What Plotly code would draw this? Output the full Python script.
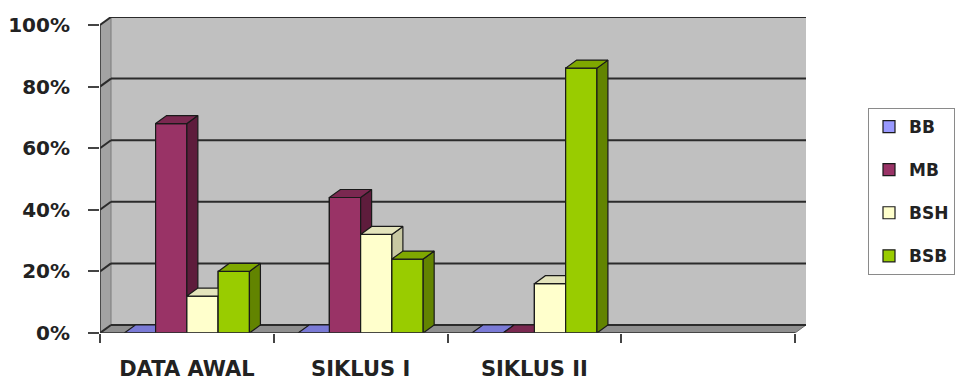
import plotly.graph_objects as go

# ---------------- data ----------------
categories = ["DATA AWAL", "SIKLUS I", "SIKLUS II", ""]
series_names = ["BB", "MB", "BSH", "BSB"]
bb = [0, 0, 0]
mb = [68, 44, 0]
bsh = [12, 32, 16]
bsb = [20, 24, 86]
y_ticks = [0, 20, 40, 60, 80, 100]
y_tick_labels = [f"{v}%" for v in y_ticks]

values = [bb, mb, bsh, bsb]

# ---------------- styles ----------------
face_colors = ["#9999FF", "#993366", "#FFFFCC", "#99CC00"]
side_colors = ["#5c5cb8", "#5e1c3c", "#c8c8a2", "#628400"]
top_colors = ["#7a7ad6", "#7a2850", "#e4e4bc", "#7fa800"]
edge = "#1a1a1a"

bar_w = 0.18          # bar width in category units
dx = 0.0633           # 3-D depth offset (x, category units)
dy = 2.6              # 3-D depth offset (y, value units)
n_slots = len(categories)
FONT = "DejaVu Sans"

fig = go.Figure()

# legend / base bar traces (front faces)
for i, (name, vals) in enumerate(zip(series_names, values)):
    fig.add_trace(go.Bar(
        x=list(range(len(vals))), y=vals, name=name,
        width=bar_w, offset=-2 * bar_w + i * bar_w,
        marker=dict(color=face_colors[i], line=dict(color=edge, width=1.2)),
        legendgroup=name, hoverinfo="skip",
    ))

# 3-D faces, drawn series by series so that later bars cover earlier sides
def poly(points_list):
    xs, ys = [], []
    for pts in points_list:
        for (px, py) in pts:
            xs.append(px)
            ys.append(py)
        xs.append(pts[0][0]); ys.append(pts[0][1])
        xs.append(None); ys.append(None)
    return xs, ys

for i, (name, vals) in enumerate(zip(series_names, values)):
    fronts, sides, tops = [], [], []
    for c, h in enumerate(vals):
        L = c - 2 * bar_w + i * bar_w
        R = L + bar_w
        fronts.append([(L, 0), (R, 0), (R, h), (L, h)])
        sides.append([(R, 0), (R + dx, dy), (R + dx, h + dy), (R, h)])
        tops.append([(L, h), (R, h), (R + dx, h + dy), (L + dx, h + dy)])
    for pts, col in ((fronts, face_colors[i]), (sides, side_colors[i]), (tops, top_colors[i])):
        xs, ys = poly(pts)
        fig.add_trace(go.Scatter(
            x=xs, y=ys, mode="lines", fill="toself", fillcolor=col,
            line=dict(color=edge, width=1.2), showlegend=False,
            hoverinfo="skip", legendgroup=name,
        ))

# ---------------- walls & gridlines ----------------
x0, x1 = -0.5, n_slots - 0.5
ymax = y_ticks[-1]
shapes = []
# back wall
shapes.append(dict(type="rect", xref="x", yref="y", x0=x0 + dx, x1=x1 + dx, y0=dy, y1=ymax + dy,
                   fillcolor="#c0c0c0", line=dict(width=0), layer="below"))
# left wall
shapes.append(dict(type="path", xref="x", yref="y",
                   path=f"M{x0},0 L{x0+dx},{dy} L{x0+dx},{ymax+dy} L{x0},{ymax} Z",
                   fillcolor="#a3a3a3", line=dict(color="#7a7a7a", width=1), layer="below"))
# floor
shapes.append(dict(type="path", xref="x", yref="y",
                   path=f"M{x0},0 L{x1},0 L{x1+dx},{dy} L{x0+dx},{dy} Z",
                   fillcolor="#8f8f8f", line=dict(color="#6a6a6a", width=1), layer="below"))
# gridlines on back wall + left wall
for v in y_ticks:
    shapes.append(dict(type="line", xref="x", yref="y", x0=x0 + dx, x1=x1 + dx, y0=v + dy, y1=v + dy,
                       line=dict(color="#2b2b2b", width=2), layer="below"))
    shapes.append(dict(type="line", xref="x", yref="y", x0=x0, x1=x0 + dx, y0=v, y1=v + dy,
                       line=dict(color="#2b2b2b", width=2), layer="below"))
# front axis lines
shapes.append(dict(type="line", xref="x", yref="y", x0=x0, x1=x1, y0=0, y1=0,
                   line=dict(color="#333333", width=1.5), layer="above"))
shapes.append(dict(type="line", xref="x", yref="y", x0=x0, x1=x0, y0=0, y1=ymax,
                   line=dict(color="#333333", width=1.5), layer="below"))

fig.update_layout(
    width=955, height=381,
    margin=dict(l=100, r=0, t=17, b=48),
    paper_bgcolor="white", plot_bgcolor="white",
    barmode="overlay",
    shapes=shapes,
    showlegend=True,
    legend=dict(
        x=1.0, xanchor="right", y=0.712, yanchor="top",
        bordercolor="#8a8a8a", borderwidth=1, bgcolor="white",
        font=dict(family=FONT, size=17, color="#222222", weight="bold"),
        traceorder="grouped", tracegroupgap=18, itemwidth=30,
    ),
    xaxis=dict(
        domain=[0, 706 / 855], automargin=False,
        range=[x0, x1 + dx], showgrid=False, zeroline=False, showline=False,
        tickmode="array", tickvals=list(range(n_slots)), ticktext=categories,
        ticks="", ticklabelstandoff=21,
        tickfont=dict(family=FONT, size=21, color="#222222", weight="bold"),
        minor=dict(tickmode="array", tickvals=[k - 0.5 for k in range(n_slots + 1)],
                   ticks="outside", ticklen=9, tickcolor="#444444", tickwidth=1.5, showgrid=False),
        fixedrange=True,
    ),
    yaxis=dict(
        automargin=False,
        range=[0, ymax + dy], showgrid=False, zeroline=False, showline=False,
        tickmode="array", tickvals=y_ticks, ticktext=y_tick_labels,
        ticks="outside", ticklen=11, tickcolor="#444444", tickwidth=1.5,
        ticklabelstandoff=14,
        tickfont=dict(family=FONT, size=20, color="#222222", weight="bold"),
        fixedrange=True,
    ),
)

fig.write_html("out.html")
